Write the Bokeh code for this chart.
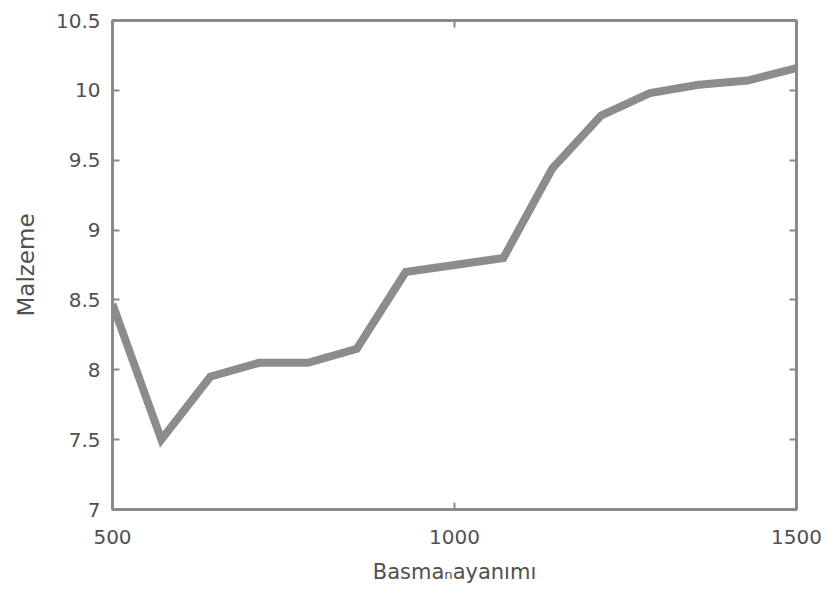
from bokeh.plotting import figure
from bokeh.models import FixedTicker, LinearAxis, Range1d
from bokeh.embed import file_html
from bokeh.resources import INLINE

# Data
x_values = [500, 571.4, 642.9, 714.3, 785.7, 857.1, 928.6, 1000, 1071.4,
            1142.9, 1214.3, 1285.7, 1357.1, 1428.6, 1500]
y_values = [8.47, 7.50, 7.95, 8.05, 8.05, 8.15, 8.70, 8.75, 8.80,
            9.44, 9.82, 9.98, 10.04, 10.07, 10.16]
x_ticks = [500, 1000, 1500]
x_tick_labels = ["500", "1000", "1500"]
y_ticks = [7, 7.5, 8, 8.5, 9, 9.5, 10, 10.5]
y_tick_labels = ["7", "7.5", "8", "8.5", "9", "9.5", "10", "10.5"]
x_label = "Basma\u2099ayanımı"
y_label = "Malzeme"

AXIS = "#8a8a8a"
TEXT = "#505050"
FONT = "DejaVu Sans"

p = figure(width=827, height=592, output_backend="svg", toolbar_location=None,
           x_range=Range1d(500, 1500), y_range=Range1d(7, 10.5),
           min_border_left=112, min_border_right=31, min_border_top=20,
           min_border_bottom=83, background_fill_color="white",
           border_fill_color="white")

p.line(x_values, y_values, line_color="#8c8c8c", line_width=8, line_join="miter")

p.grid.visible = False
p.outline_line_color = AXIS
p.outline_line_width = 3

def style(ax, ticks, labels, show_labels):
    ax.ticker = FixedTicker(ticks=ticks)
    ax.axis_line_color = None
    ax.major_tick_in = 7
    ax.major_tick_out = 0
    ax.major_tick_line_color = AXIS
    ax.major_tick_line_width = 2
    ax.minor_tick_line_color = None
    ax.major_label_text_font = FONT
    ax.major_label_text_color = TEXT
    ax.major_label_text_font_size = "20px"
    if show_labels:
        ax.major_label_overrides = {t: l for t, l in zip(ticks, labels)}
    else:
        ax.major_label_overrides = {t: "" for t in ticks}
        ax.major_label_standoff = 0

xa = p.xaxis[0]
ya = p.yaxis[0]
style(xa, x_ticks, x_tick_labels, True)
style(ya, y_ticks, y_tick_labels, True)
xa.major_label_standoff = 20
ya.major_label_standoff = 12

xa.axis_label = x_label
ya.axis_label = y_label
for ax in (xa, ya):
    ax.axis_label_text_font = FONT
    ax.axis_label_text_font_style = "normal"
    ax.axis_label_text_color = TEXT
xa.axis_label_text_font_size = "21px"
ya.axis_label_text_font_size = "23px"
xa.axis_label_standoff = 13
ya.axis_label_standoff = 14

ra = LinearAxis()
style(ra, y_ticks, y_tick_labels, False)
p.add_layout(ra, "right")
ta = LinearAxis()
style(ta, x_ticks, x_tick_labels, False)
p.add_layout(ta, "above")

open("out.html", "w").write(file_html(p, INLINE))
